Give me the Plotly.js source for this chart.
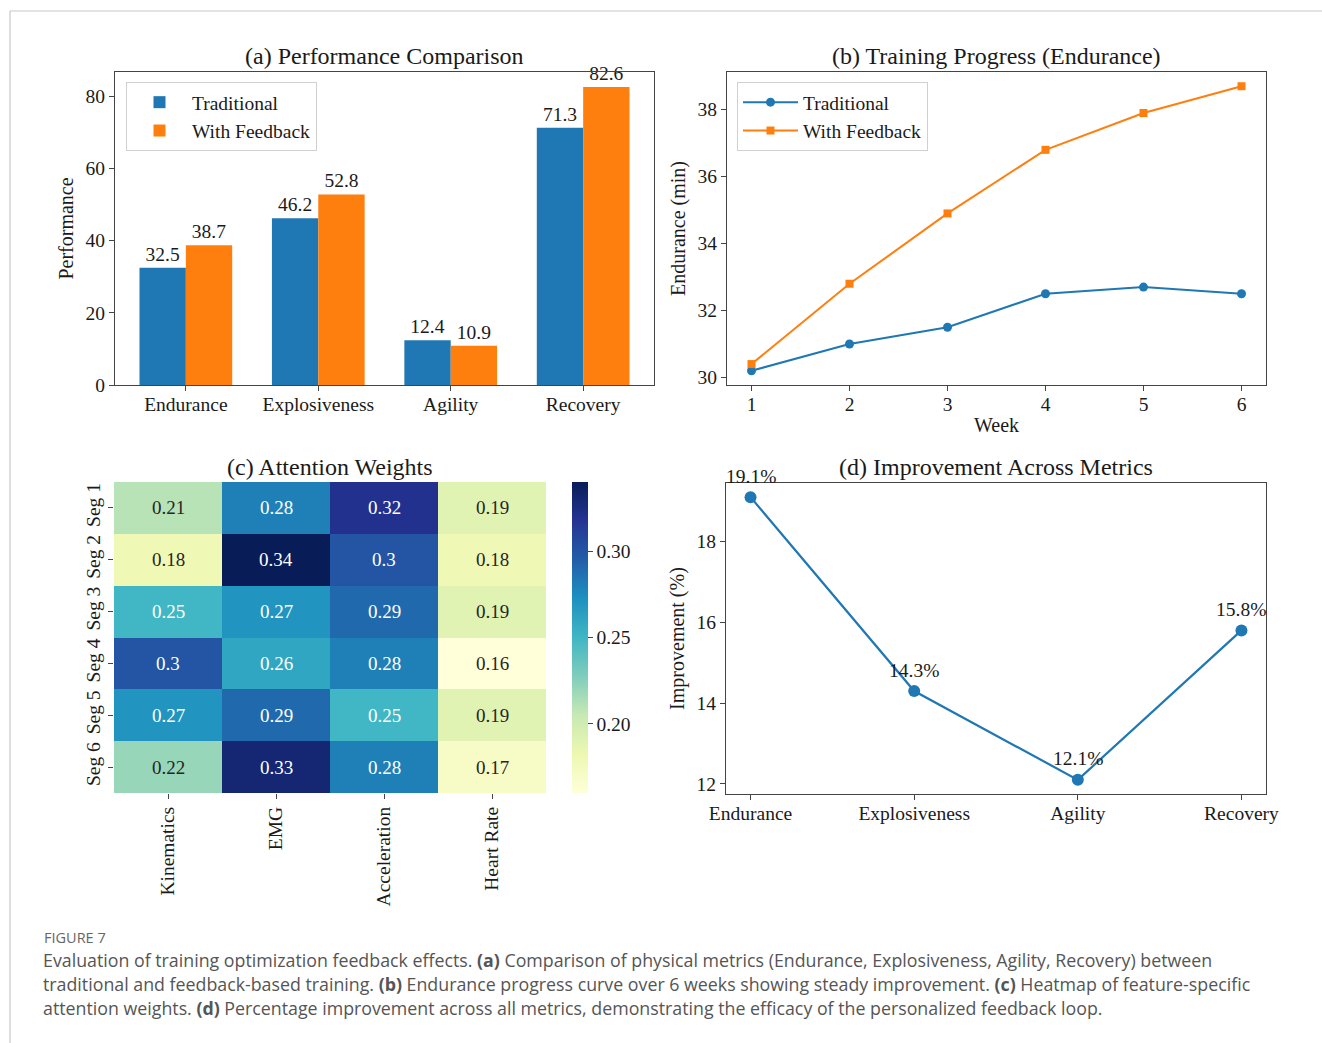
<!DOCTYPE html>
<html>
<head>
<meta charset="utf-8">
<script src="https://cdn.plot.ly/plotly-3.0.1.min.js"></script>
<style>
html, body { margin: 0; padding: 0; background: #fff; }
#chart { width: 1322px; height: 1043px; }
</style>
</head>
<body>
<div id="chart"></div>
<script>
// ---------- data ----------
const metrics = ['Endurance', 'Explosiveness', 'Agility', 'Recovery'];
const traditionalPerf = [32.5, 46.2, 12.4, 71.3];
const feedbackPerf = [38.7, 52.8, 10.9, 82.6];

const weeks = [1, 2, 3, 4, 5, 6];
const traditionalWeekly = [30.2, 31.0, 31.5, 32.5, 32.7, 32.5];
const feedbackWeekly = [30.4, 32.8, 34.9, 36.8, 37.9, 38.7];

const segments = ['Seg 1', 'Seg 2', 'Seg 3', 'Seg 4', 'Seg 5', 'Seg 6'];
const features = ['Kinematics', 'EMG', 'Acceleration', 'Heart Rate'];
const attention = [
  [0.21, 0.28, 0.32, 0.19],
  [0.18, 0.34, 0.30, 0.18],
  [0.25, 0.27, 0.29, 0.19],
  [0.30, 0.26, 0.28, 0.16],
  [0.27, 0.29, 0.25, 0.19],
  [0.22, 0.33, 0.28, 0.17]
];

const improvement = [19.1, 14.3, 12.1, 15.8];

const panelTitles = ['(a) Performance Comparison', '(b) Training Progress (Endurance)',
                     '(c) Attention Weights', '(d) Improvement Across Metrics'];

// ---------- style ----------
const W = 1322, H = 1043;
const BLUE = '#1f77b4', ORANGE = '#ff7f0e';
const SERIF = 'Liberation Serif, Times New Roman, serif';
const INK = '#1a1a1a';
const FS = 19.5;
const px = v => v / W;
const py = v => 1 - v / H;

const YlGnBu = [
  [0.0, '#ffffd9'], [0.125, '#edf8b1'], [0.25, '#c7e9b4'], [0.375, '#7fcdbb'],
  [0.5, '#41b6c4'], [0.625, '#1d91c0'], [0.75, '#225ea8'], [0.875, '#253494'], [1.0, '#081d58']
];

const axisBase = {
  showline: true, mirror: true, linecolor: '#444', linewidth: 1.2,
  ticks: 'outside', ticklen: 5, tickcolor: '#444', tickwidth: 1,
  showgrid: false, zeroline: false,
  tickfont: { family: SERIF, size: FS, color: INK }
};
function ax(extra) { return Object.assign({}, JSON.parse(JSON.stringify(axisBase)), extra); }
function atitle(text, standoff) { return { text: text, standoff: standoff, font: { family: SERIF, size: 20, color: INK } }; }

// ---------- traces ----------
const traces = [
  { type: 'bar', name: 'Traditional', x: metrics, y: traditionalPerf, marker: { color: BLUE },
    text: traditionalPerf.map(String), textposition: 'outside', constraintext: 'none', cliponaxis: false,
    textfont: { family: SERIF, size: FS, color: INK }, xaxis: 'x', yaxis: 'y', legend: 'legend' },
  { type: 'bar', name: 'With Feedback', x: metrics, y: feedbackPerf, marker: { color: ORANGE },
    text: feedbackPerf.map(String), textposition: 'outside', constraintext: 'none', cliponaxis: false,
    textfont: { family: SERIF, size: FS, color: INK }, xaxis: 'x', yaxis: 'y', legend: 'legend' },

  { type: 'scatter', mode: 'lines+markers', name: 'Traditional', x: weeks, y: traditionalWeekly,
    line: { color: BLUE, width: 2 }, marker: { symbol: 'circle', size: 9, color: BLUE },
    xaxis: 'x2', yaxis: 'y2', legend: 'legend2' },
  { type: 'scatter', mode: 'lines+markers', name: 'With Feedback', x: weeks, y: feedbackWeekly,
    line: { color: ORANGE, width: 2 }, marker: { symbol: 'square', size: 8, color: ORANGE },
    xaxis: 'x2', yaxis: 'y2', legend: 'legend2' },

  { type: 'heatmap', x: features, y: segments, z: attention, colorscale: YlGnBu,
    zmin: 0.16, zmax: 0.34, xgap: 0, ygap: 0, showlegend: false, xaxis: 'x3', yaxis: 'y3',
    colorbar: {
      x: px(572), xanchor: 'left', y: py(482), yanchor: 'top',
      len: 311, lenmode: 'pixels', thickness: 16, thicknessmode: 'pixels',
      outlinewidth: 0, ticks: 'outside', ticklen: 5, tickcolor: '#444',
      tickvals: [0.20, 0.25, 0.30], tickformat: '.2f',
      tickfont: { family: SERIF, size: FS, color: INK }, xpad: 0, ypad: 0
    } },

  { type: 'scatter', mode: 'lines+markers', name: 'Improvement', x: metrics, y: improvement,
    line: { color: BLUE, width: 2.2 }, marker: { symbol: 'circle', size: 12, color: BLUE },
    showlegend: false, xaxis: 'x4', yaxis: 'y4' }
];

// ---------- annotations ----------
const annotations = [];
const titlePos = [[384.5, 56], [996.5, 56], [330, 467], [996, 467]];
panelTitles.forEach((t, i) => {
  annotations.push({ text: t, xref: 'paper', yref: 'paper', x: px(titlePos[i][0]), y: py(titlePos[i][1]),
    xanchor: 'center', yanchor: 'middle', showarrow: false, font: { family: SERIF, size: 24, color: INK } });
});

// heatmap cell values
attention.forEach((row, r) => row.forEach((v, c) => {
  annotations.push({ text: String(v), x: features[c], y: segments[r], xref: 'x3', yref: 'y3',
    showarrow: false, font: { family: SERIF, size: 19, color: v >= 0.235 ? '#ffffff' : '#262626' } });
}));

// improvement labels
improvement.forEach((v, i) => {
  annotations.push({ text: v.toFixed(1) + '%', x: metrics[i], y: v, xref: 'x4', yref: 'y4',
    showarrow: false, yshift: 21, font: { family: SERIF, size: FS, color: INK } });
});

// caption
const CAP = 'Open Sans, Noto Sans, sans-serif';
annotations.push({ text: 'FIGURE 7', xref: 'paper', yref: 'paper', x: px(42), y: py(937),
  xanchor: 'left', yanchor: 'middle', showarrow: false, font: { family: CAP, size: 14.5, color: '#666' } });
const captionLines = [
  'Evaluation of training optimization feedback effects. <b>(a)</b> Comparison of physical metrics (Endurance, Explosiveness, Agility, Recovery) between',
  'traditional and feedback-based training. <b>(b)</b> Endurance progress curve over 6 weeks showing steady improvement. <b>(c)</b> Heatmap of feature-specific',
  'attention weights. <b>(d)</b> Percentage improvement across all metrics, demonstrating the efficacy of the personalized feedback loop.'
];
captionLines.forEach((t, i) => {
  annotations.push({ text: t, xref: 'paper', yref: 'paper', x: px(41), y: py(960 + 24 * i),
    xanchor: 'left', yanchor: 'middle', showarrow: false, font: { family: CAP, size: 17.8, color: '#555' } });
});

// ---------- layout ----------
const legendStyle = {
  bgcolor: 'rgba(255,255,255,0.85)', bordercolor: '#d0d0d0', borderwidth: 1,
  font: { family: SERIF, size: FS, color: INK }, xanchor: 'left', yanchor: 'top', itemwidth: 55
};

const layout = {
  width: W, height: H, margin: { l: 0, r: 0, t: 0, b: 0 },
  paper_bgcolor: '#fff', plot_bgcolor: '#fff',
  barmode: 'group', bargap: 0.3, bargroupgap: 0,
  showlegend: true,
  legend: Object.assign({}, legendStyle, { x: px(126), y: py(82) }),
  legend2: Object.assign({}, legendStyle, { x: px(737), y: py(82) }),

  xaxis: ax({ domain: [px(115), px(654)], anchor: 'y', range: [-0.535, 3.535], ticklabelstandoff: -4 }),
  yaxis: ax({ domain: [py(385), py(72)], anchor: 'x', range: [0, 86.73], tickvals: [0, 20, 40, 60, 80],
    title: atitle('Performance', 6) }),

  xaxis2: ax({ domain: [px(727), px(1266)], anchor: 'y2', range: [0.75, 6.25], tickvals: weeks,
    ticklabelstandoff: -4, title: atitle('Week', 4) }),
  yaxis2: ax({ domain: [py(385), py(72)], anchor: 'x2', range: [29.775, 39.125], tickvals: [30, 32, 34, 36, 38],
    title: atitle('Endurance (min)', 6) }),

  xaxis3: { domain: [px(114), px(546)], anchor: 'y3', showline: false, showgrid: false, zeroline: false,
    ticks: 'outside', ticklen: 5, tickcolor: '#444', tickangle: -90,
    tickfont: { family: SERIF, size: FS, color: INK }, range: [-0.5, 3.5] },
  yaxis3: { domain: [py(793), py(482)], anchor: 'x3', showline: false, showgrid: false, zeroline: false,
    ticks: 'outside', ticklen: 5, tickcolor: '#444', tickangle: -90, autorange: 'reversed',
    tickfont: { family: SERIF, size: FS, color: INK } },

  xaxis4: ax({ domain: [px(726), px(1266)], anchor: 'y4', range: [-0.15, 3.15], ticklabelstandoff: -4 }),
  yaxis4: ax({ domain: [py(794), py(483)], anchor: 'x4', range: [11.75, 19.45], tickvals: [12, 14, 16, 18],
    title: atitle('Improvement (%)', 6) }),

  annotations: annotations,
  shapes: [
    { type: 'line', xref: 'paper', yref: 'paper', x0: px(10), x1: 1, y0: py(11), y1: py(11),
      line: { color: '#c8c8c8', width: 1.2 } },
    { type: 'line', xref: 'paper', yref: 'paper', x0: px(10), x1: px(10), y0: py(11), y1: 0,
      line: { color: '#c8c8c8', width: 1.2 } }
  ]
};

Plotly.newPlot('chart', traces, layout, { displayModeBar: false, staticPlot: true });
</script>
</body>
</html>
